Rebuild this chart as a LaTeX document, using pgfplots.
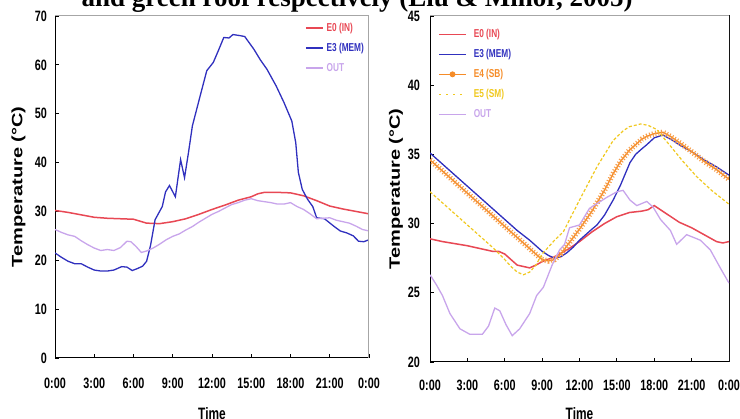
\documentclass[border=0pt]{standalone}
\usepackage{fontspec}
\usepackage{pgfplots}
\pgfplotsset{compat=1.18}
\newfontfamily\cf[FakeStretch=0.72]{Liberation Sans}
\newfontfamily\yf{Liberation Sans}
\newfontfamily\tf{Liberation Serif}
\definecolor{cred}{RGB}{232,72,84}
\definecolor{cblue}{RGB}{48,48,190}
\definecolor{clav}{RGB}{200,165,235}
\definecolor{cora}{RGB}{245,140,40}
\definecolor{cyel}{RGB}{240,200,30}
\pgfplotsset{
  myax/.style={
    scale only axis, anchor=south west, xmin=0, xmax=24,
    xtick={0,3,...,24},
    xticklabels={0:00,3:00,6:00,9:00,12:00,15:00,18:00,21:00,0:00},
    tick align=inside, tick pos=left, major tick length=4pt,
    tick style={black, line width=0.9pt},
    axis line style={black, line width=1pt},
    /pgf/number format/assume math mode=true,
    ticklabel style={font=\cf\bfseries\fontsize{15}{16}\selectfont, inner sep=0pt},
    xlabel={Time},
    xlabel style={font=\cf\bfseries\fontsize{16.5}{18}\selectfont, inner sep=0pt, anchor=north},
    ylabel={\scalebox{1}[0.75]{\yf\bfseries\fontsize{20}{22}\selectfont Temperature (°C)}},
    ylabel style={anchor=center, inner sep=0pt},
    legend cell align=left,
    legend style={draw=none, fill=none, inner sep=0pt, row sep=10pt,
      font=\cf\bfseries\fontsize{11.5}{12}\selectfont,
      nodes={inner sep=0pt, text height=8pt, text depth=2pt},
      anchor=north west},
  }
}
\pgfplotstableread{
h T
0 34.6
1 33.8
2 33.0
3 32.2
4 31.4
5 30.6
6 29.8
7 29.0
8 28.2
9 27.4
9.5 27.3
10 27.4
10.5 27.8
11 28.4
12 29.6
13 30.9
14 32.4
14.7 33.6
15.3 34.5
16 35.3
17 36.1
17.4 36.3
18 36.5
18.7 36.6
19.3 36.3
20.1 35.8
21 35.2
22 34.5
23 33.9
24 33.2
}\eFour
\begin{document}
\begin{tikzpicture}[x=1pt,y=1pt]
% ---------------- left
\begin{axis}[myax, at={(55pt,61pt)}, width=314pt, height=342pt,
  ymin=0, ymax=70, ytick={0,10,...,70},
  xticklabel style={yshift=-20pt},
  yticklabel style={xshift=-8pt},
  xlabel style={at={(axis description cs:0.5,0)}, yshift=-49pt},
  ylabel style={at={(axis description cs:-0.1162,0.5)}},
  legend style={at={(axis description cs:0.796,0.980)},
    /tikz/every odd column/.append style={column sep=3pt}},
  legend image code/.code={\draw[#1] (0pt,0pt) -- (17pt,0pt);},
]
\addplot[cred, line width=1.5pt] coordinates {
(0,30.2)(1,29.8)(2,29.3)(3,28.8)(4,28.6)(5,28.5)(6,28.4)(6.5,28.0)(7,27.6)(8,27.5)
(9,27.9)(10,28.5)(11,29.4)(12,30.4)(13,31.3)(14,32.3)(15,33.0)(15.5,33.6)(16,33.9)
(17,33.9)(18,33.8)(19,33.2)(20,32.2)(21,31.1)(22,30.5)(23,30.0)(24,29.5)};
\addlegendentry{\textcolor{cred}{E0 (IN)}}
\addplot[cblue, line width=1.3pt] coordinates {
(0,21.5)(0.5,20.6)(1,19.8)(1.5,19.3)(2,19.3)(2.5,18.6)(3,18.0)(3.5,17.8)(4,17.8)
(4.5,18.0)(5.1,18.7)(5.5,18.6)(5.9,17.9)(6.3,18.3)(6.7,18.8)(7.0,19.8)(7.3,23)
(7.65,28.3)(8.2,31)(8.45,34)(8.75,35.3)(9.2,33.0)(9.6,40.6)(9.9,36.9)(10.2,42)
(10.5,47.5)(11.1,53.7)(11.6,58.8)(12.1,60.5)(12.5,63)(12.9,65.6)(13.3,65.5)
(13.6,66.2)(14.1,66)(14.5,65.8)(15.2,63.2)(15.7,61)(16.2,59.1)(16.9,55.7)
(17.5,52.3)(18.1,48.5)(18.4,44.1)(18.6,38)(18.9,34.5)(19.3,32.5)(19.7,31)
(20.0,28.7)(20.6,28.5)(21.3,27)(21.8,26)(22.3,25.6)(22.8,25)(23.2,23.9)
(23.6,23.8)(24,24.2)};
\addlegendentry{\textcolor{cblue}{E3 (MEM)}}
\addplot[clav, line width=1.3pt] coordinates {
(0,26.3)(0.5,25.7)(1,25.2)(1.5,24.9)(2,24.0)(2.5,23.2)(3,22.5)(3.5,22.0)(4,22.2)
(4.5,22.0)(5,22.6)(5.5,23.9)(5.8,23.8)(6.2,22.8)(6.6,21.6)(7,21.9)(7.5,22.5)
(8,23.3)(8.5,24.2)(9,24.9)(9.5,25.4)(10,26.2)(10.5,26.9)(11,27.8)(11.5,28.6)
(12,29.4)(12.5,30.0)(13,30.7)(13.5,31.4)(14,31.8)(14.5,32.3)(15,32.6)(15.5,32.2)
(16,32.0)(16.5,31.8)(17,31.5)(17.5,31.5)(18,31.8)(18.5,31.0)(19,30.4)(19.5,29.5)
(20,28.5)(20.5,28.6)(21,28.7)(21.5,28.2)(22,27.9)(22.5,27.6)(23,27.0)(23.5,26.3)(24,26.0)};
\addlegendentry{\textcolor{clav}{OUT}}
\draw[gray!70, line width=1pt] (rel axis cs:0,1) -- (rel axis cs:1,1) -- (rel axis cs:1,0);
\end{axis}
% ---------------- right
\begin{axis}[myax, at={(430pt,57pt)}, width=299pt, height=346pt,
  ymin=20, ymax=45, ytick={20,25,...,45},
  xticklabel style={yshift=-18pt},
  yticklabel style={xshift=-10pt},
  xlabel style={at={(axis description cs:0.5,0)}, yshift=-45pt},
  ylabel style={at={(axis description cs:-0.1137,0.5)}},
  legend style={at={(axis description cs:0.027,0.962)},
    /tikz/every odd column/.append style={column sep=7pt}},
  legend image code/.code={\draw[#1] (0pt,0pt) -- (27pt,0pt);},
]
\addplot[cred, line width=1.5pt] coordinates {
(0,28.9)(1,28.7)(2,28.55)(3,28.4)(4,28.2)(5,28.0)(5.5,28.0)(6,27.8)(6.5,27.4)
(7,27.0)(7.5,26.9)(8,26.8)(8.5,27.0)(9,27.25)(10,27.6)(11,28.1)(12,28.7)(13,29.4)
(13.5,29.7)(14,30.0)(15,30.5)(16,30.8)(17,30.9)(17.5,31.0)(18,31.3)(18.5,31.0)
(19,30.7)(20,30.1)(21,29.7)(22,29.2)(23,28.7)(23.5,28.6)(24,28.7)};
\addlegendentry{\textcolor{cred}{E0 (IN)}}
\addplot[cblue, line width=1.3pt] coordinates {
(0,35.1)(1,34.3)(2,33.5)(3,32.7)(4,31.9)(5,31.1)(6,30.3)(7,29.5)(8,28.8)(9,28.0)
(9.5,27.7)(10,27.5)(10.5,27.6)(11,27.9)(11.5,28.3)(12,28.8)(12.5,29.2)(13,29.6)
(13.4,29.9)(14,30.6)(14.7,31.7)(15.3,32.8)(16.05,34.4)(16.5,35.0)(17,35.4)
(17.4,35.7)(18,36.2)(18.7,36.4)(19.5,36.0)(20,35.7)(21,35.2)(22,34.6)(23,34.1)(24,33.5)};
\addlegendentry{\textcolor{cblue}{E3 (MEM)}}
\addplot[cora, line width=1.4pt,
  legend image code/.code={\draw[cora, line width=1.2pt] (0pt,0pt) -- (27pt,0pt);
    \fill[cora] (13.5pt,0pt) circle (2.2pt);}] table[x=h,y=T] {\eFour};
\addlegendentry{\textcolor{cora}{E4 (SB)}}
\addplot[cora!85, line width=5.5pt, dash pattern=on 1pt off 2pt, forget plot] table[x=h,y=T] {\eFour};
\addplot[cyel, line width=1.2pt, dash pattern=on 3pt off 2pt,
  legend image code/.code={\draw[cyel, line width=1.5pt, dash pattern=on 2pt off 5pt] (0pt,0pt) -- (27pt,0pt);}] coordinates {
(0,32.3)(1,31.5)(2,30.7)(3,29.9)(4,29.1)(5,28.3)(6,27.4)(6.5,26.9)(7,26.5)(7.5,26.3)
(8,26.5)(8.5,27.0)(9,27.8)(9.5,28.3)(10,28.8)(10.7,29.4)(12,31.7)(13.4,34.1)
(14.7,36.0)(15.5,36.7)(16,37.0)(16.9,37.2)(17.5,37.1)(18.2,36.8)(19.3,35.6)
(20.3,34.5)(21.4,33.4)(22.6,32.4)(24,31.4)};
\addlegendentry{\textcolor{cyel}{E5 (SM)}}
\addplot[clav, line width=1.3pt] coordinates {
(0,26.3)(0.5,25.6)(1,24.8)(1.6,23.5)(2.4,22.4)(3.2,22.0)(3.7,22.0)(4.2,22.0)
(4.7,22.6)(5.2,23.9)(5.6,23.7)(6.1,22.7)(6.6,21.9)(7.2,22.4)(8.0,23.5)(8.56,24.8)
(9.1,25.4)(9.8,27.0)(10.4,28.1)(10.8,28.5)(11.2,29.7)(12.0,29.9)(12.8,31.1)
(13.5,31.5)(14.2,31.9)(15.0,32.3)(15.5,32.4)(16.05,31.7)(16.6,31.3)(17.4,31.6)
(17.9,31.2)(18.5,30.3)(19.3,29.5)(19.8,28.5)(20.6,29.2)(21.7,28.8)(22.5,28.1)
(23.3,26.8)(24,25.7)};
\addlegendentry{\textcolor{clav}{OUT}}
\draw[gray!70, line width=1pt] (rel axis cs:0,1) -- (rel axis cs:1,1) -- (rel axis cs:1,0);
\end{axis}
\node[font=\tf\bfseries\fontsize{27}{30}\selectfont, anchor=base, inner sep=0pt] at (357pt,412.5pt)
  {and green roof respectively (Liu \& Minor, 2005)};
\pgfresetboundingbox
\path[use as bounding box] (0pt,0pt) rectangle (740pt,419pt);
\end{tikzpicture}
\end{document}
